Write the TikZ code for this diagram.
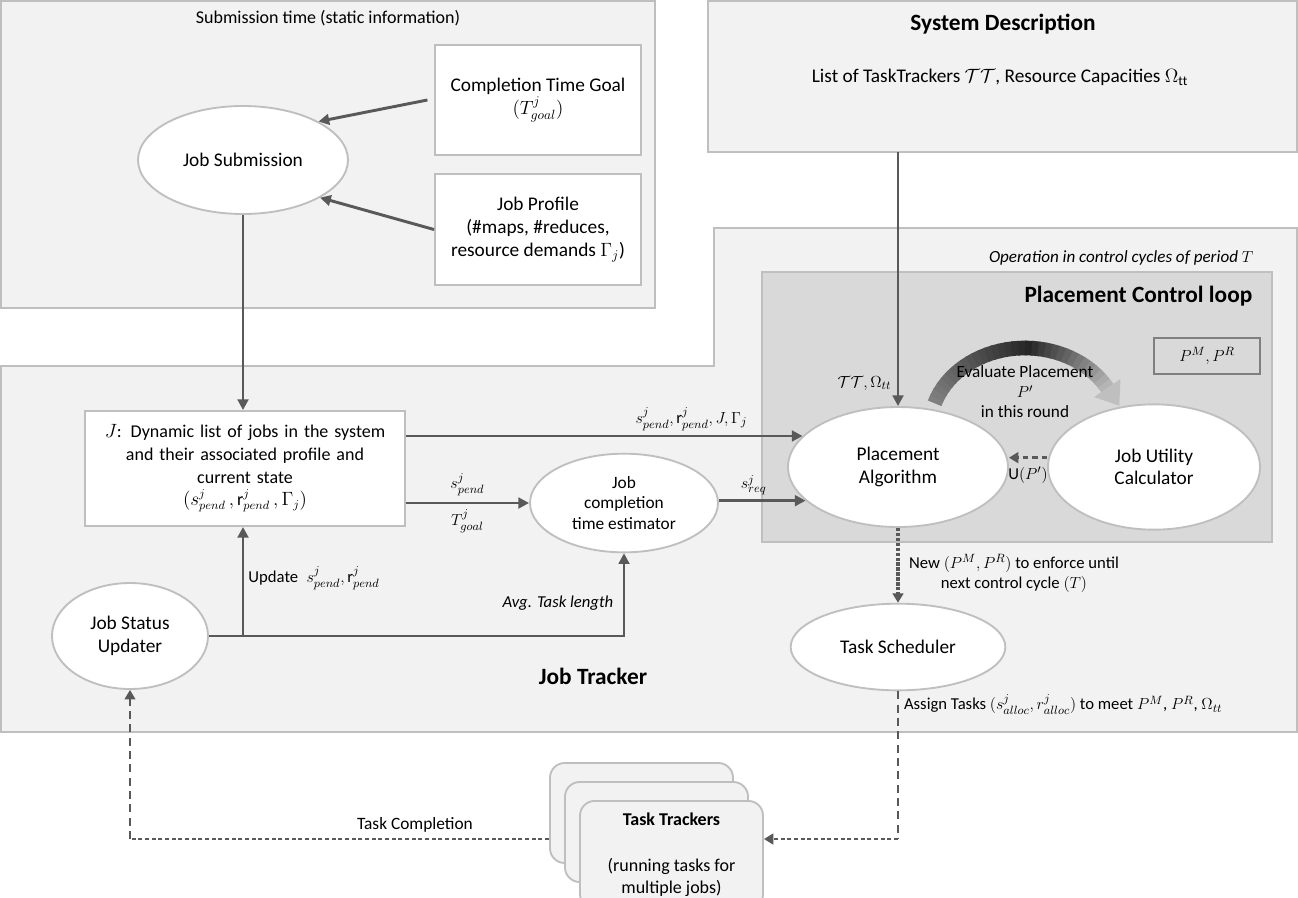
\documentclass[tikz,border=0pt]{standalone}
\usepackage{fontspec}
\setmainfont{Carlito}
\usepackage{xcolor}
\definecolor{jtRegion}{RGB}{242,242,242}
\definecolor{jtLoop}{RGB}{217,217,217}
\definecolor{jtBorder}{RGB}{191,191,191}
\definecolor{jtArrow}{RGB}{89,89,89}
\definecolor{jtFrame}{RGB}{127,127,127}
\usepackage{tikz}
\usetikzlibrary{positioning,arrows.meta,calc,shapes.geometric}

\begin{document}
\begin{tikzpicture}[x=0.75pt,y=-0.75pt,node distance=12.75pt,
  reg/.style={draw=jtBorder,fill=jtRegion,line width=1.6pt,outer sep=0pt},
  e/.style={ellipse,draw=jtBorder,fill=white,line width=1.4pt,align=center,
    inner sep=0pt,font=\fontsize{14.5}{17}\selectfont},
  b/.style={draw=jtBorder,fill=white,line width=1.4pt,align=center,
    font=\fontsize{14.5}{17}\selectfont},
  trk/.style={draw=jtBorder,fill=jtRegion,line width=1.4pt,rounded corners=11pt,
    minimum width=137.25pt,minimum height=75pt},
  a/.style={-{Triangle[length=8pt,width=8pt]},jtArrow,line width=2.2pt},
  dsh/.style={-{Triangle[length=7pt,width=8pt]},jtArrow,line width=2.2pt,dash pattern=on 4pt off 3pt},
  dtt/.style={-{Triangle[length=7pt,width=8pt]},jtArrow,line width=3pt,dash pattern=on 2.5pt off 1.2pt},
  thn/.style={jtArrow,line width=1.1pt,dash pattern=on 6pt off 4pt},
  thk/.style={jtArrow,line width=2.2pt,dash pattern=on 3pt off 2pt},
  lb/.style={font=\fontsize{12.5}{15}\selectfont,inner sep=1pt,text=black},
  ttl/.style={font=\bfseries\fontsize{17.5}{20}\selectfont}]
  \useasboundingbox (0,0) rectangle (1298,897);

  % regions
  \node[reg,minimum width=490.5pt,minimum height=230.25pt] (sub) at (328,154.5) {};
  \node[reg,minimum width=441.75pt,minimum height=113.25pt] (sysd) at (1002.5,76.5) {};
  \draw[reg] (1,366) -- (714,366) -- (714,228) -- (1297,228) -- (1297,732) -- (1,732) -- cycle;
  \node[reg,fill=jtLoop,minimum width=382.5pt,minimum height=202.5pt] (loop) at (1017,407) {};

  \node[font=\fontsize{13.5}{15}\selectfont] (subt) at (328,18) {Submission time (static information)};
  \node[ttl] (sysdt) at (1003,24) {System Description};
  \node[font=\fontsize{14.5}{17}\selectfont] (sysdl) at (1000,77)
    {List of TaskTrackers $\mathcal{T}\mathcal{T}$, Resource Capacities $\Omega_{\mathrm{tt}}$};
  \node[font=\itshape\fontsize{12.8}{14}\selectfont,anchor=east] (opt) at (1258,258)
    {Operation in control cycles of period $T$};
  \node[ttl,anchor=east] (loopt) at (1257,296) {Placement Control loop};
  \node[font=\bfseries\fontsize{17.5}{20}\selectfont] (jtt) at (593,676) {Job Tracker};

  % evaluate arc
  \begin{scope}[shift={(1025,428)}]
    \foreach \ang in {162,158,...,34}{
      \pgfmathsetmacro\shd{\ang>90 ? 85-(\ang-90)*0.486 : 85-(90-\ang)*1.0}
      \draw[line width=11pt,color=black!\shd] (\ang:71.25pt and 60pt)
        arc[start angle=\ang,end angle=\ang-5,x radius=71.25pt,y radius=60pt];
    }
    \fill[black!25] (71.6pt,36.8pt) -- (70.7pt,16.8pt) -- (51.8pt,23.2pt) -- cycle;
  \end{scope}
  \node[lb,align=center,font=\fontsize{12.9}{15}\selectfont] (evl) at (1025,392)
    {Evaluate Placement\\$P'$\\in this round};

  % nodes
  \node[e,minimum width=157.5pt,minimum height=81pt] (jsub) at (243,160) {Job Submission};
  \node[b,minimum width=154.5pt,minimum height=83pt] (goal) at (538,100)
    {Completion Time Goal\\$(T^j_{goal})$};
  \node[b,minimum width=154.5pt,minimum height=83pt,below=of goal] (prof)
    {Job Profile\\(\#maps, \#reduces,\\resource demands $\Gamma_j$)};
  \node[b,text width=233pt,minimum height=86.25pt,font=\fontsize{13.5}{17}\selectfont] (jlist) at (245,468.5)
    {$J$: Dynamic list of jobs in the system\\and their associated profile and\\current state\\
     $(s^j_{pend}\,, \mathrm{r}^j_{pend}\,, \Gamma_j)$};
  \node[e,minimum width=141pt,minimum height=74pt,font=\fontsize{13}{15.5}\selectfont] (est) at (624,503)
    {Job\\completion\\time estimator};
  \node[e,minimum width=165pt,minimum height=90pt] (palg) at (898,467) {Placement\\Algorithm};
  \node[e,minimum width=159pt,minimum height=94pt] (juc) at (1154,467) {Job Utility\\Calculator};
  \node[draw=jtFrame,line width=1.4pt,minimum width=79.5pt,minimum height=27pt,
    font=\fontsize{13}{15}\selectfont] (pmpr) at (1207,356) {$P^M, P^R$};
  \node[e,minimum width=117pt,minimum height=79.5pt] (jsu) at (130,636) {Job Status\\Updater};
  \node[e,minimum width=161pt,minimum height=65pt] (tsch) at (898,647) {Task Scheduler};

  \node[trk] (tt1) at (641.5,813) {};
  \node[trk] (tt2) at (656.5,832) {};
  \node[trk,minimum height=81pt,anchor=north,align=center,font=\fontsize{13.5}{16.5}\selectfont] (tt3) at (671.5,800)
    {\textbf{Task Trackers}\\[18pt](running tasks for\\multiple jobs)};
  \path (tt3.north east) ++(0,39) coordinate (tin);

  % connectors
  \draw[a] (jsub.south) -- (jsub.south |- jlist.north);
  \draw[a] ([xshift=-5pt]goal.west) -- (jsub.27);
  \draw[a] (prof.west) -- (jsub.-26);
  \draw[a] (sysd.south -| palg.north) -- (palg.north)
    node[lb,pos=0.91,left=3pt] {$\mathcal{T}\mathcal{T}, \Omega_{tt}$};
  \draw[a] (jlist.east |- palg.162) -- (palg.162)
    node[lb,pos=0.72,above=2pt] {$s^j_{pend}, \mathrm{r}^j_{pend}, J, \Gamma_j$};
  \draw[a] (jlist.east |- est.west) -- (est.west)
    node[lb,midway,above=3pt] {$s^j_{pend}$}
    node[lb,midway,below=3pt] {$T^j_{goal}$};
  \draw[a] (est.east |- palg.200) -- (palg.200) node[lb,pos=0.4,above=2pt] {$s^j_{req}$};
  \draw[a] (jsu.east) -- (est.south |- jsu.east) -- (est.south)
    node[lb,pos=0.4,left=6pt,font=\itshape\fontsize{12.5}{15}\selectfont] {Avg. Task length};
  \draw[a] (jsub.south |- jsu.east) -- (jsub.south |- jlist.south)
    node[lb,pos=0.53,right=2pt] {Update\enspace $s^j_{pend}, \mathrm{r}^j_{pend}$};
  \draw[dsh] ([yshift=7pt]juc.west) -- ([yshift=7pt]juc.west -| palg.east)
    node[lb,midway,below=5pt] {U$(P')$};
  \draw[dtt] (palg.south) -- (tsch.north);
  \node[lb,align=center] (newl) at (1014,573)
    {New $(P^M, P^R)$ to enforce until\\next control cycle $(T)$};
  \draw[thn] (tsch.south) -- (tsch.south |- tin)
    node[lb,pos=0.09,right=3pt] {Assign Tasks $(s^j_{alloc}, r^j_{alloc})$ to meet $P^M$, $P^R$, $\Omega_{tt}$};
  \draw[thk,-{Triangle[length=7pt,width=8pt]}] (tsch.south |- tin) -- (tin);
  \draw[thk] (tt1.west |- tin) -- (jsu.south |- tin)
    node[lb,pos=0.32,above=3pt,font=\fontsize{13}{15}\selectfont] {Task Completion};
  \draw[thn,-{Triangle[length=7pt,width=8pt]}] (jsu.south |- tin) -- (jsu.south);
\end{tikzpicture}
\end{document}
